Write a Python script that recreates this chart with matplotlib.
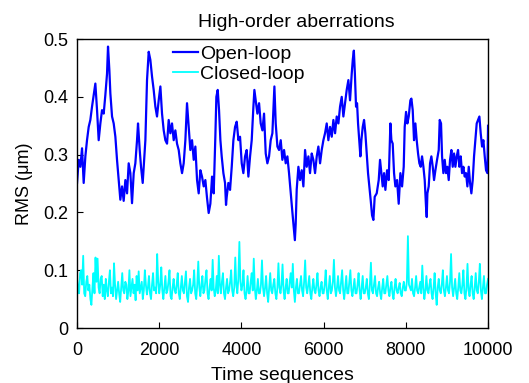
import matplotlib.pyplot as plt

plt.rcParams['font.family'] = ['Liberation Sans', 'DejaVu Sans']

# open-loop trace
open_t = [0, 41, 81, 122, 162, 203, 243, 284, 324, 365, 406, 446, 487, 527, 568, 608, 649, 689,
          730, 754, 787, 811, 852, 892, 933, 973, 1014, 1054, 1095, 1135, 1176, 1217, 1257, 1298,
          1338, 1379, 1419, 1460, 1484, 1525, 1557, 1598, 1622, 1663, 1703, 1744, 1784, 1825,
          1865, 1906, 1946, 1987, 2028, 2068, 2109, 2149, 2190, 2230, 2271, 2311, 2352, 2392,
          2433, 2474, 2514, 2555, 2595, 2636, 2676, 2717, 2757, 2798, 2839, 2879, 2920, 2960,
          3001, 3041, 3082, 3122, 3163, 3203, 3244, 3285, 3325, 3365, 3390, 3423, 3455, 3488,
          3520, 3561, 3601, 3625, 3642, 3682, 3723, 3764, 3804, 3845, 3885, 3926, 3966, 4007,
          4047, 4088, 4128, 4169, 4210, 4250, 4291, 4315, 4347, 4388, 4429, 4469, 4510, 4550,
          4591, 4631, 4672, 4712, 4753, 4802, 4834, 4875, 4915, 4956, 4996, 5037, 5077, 5118,
          5158, 5199, 5240, 5270, 5300, 5320, 5345, 5386, 5426, 5467, 5507, 5548, 5588, 5629,
          5669, 5710, 5750, 5791, 5832, 5872, 5913, 5953, 5994, 6034, 6075, 6115, 6156, 6197,
          6237, 6278, 6318, 6359, 6399, 6440, 6480, 6521, 6561, 6602, 6642, 6683, 6710, 6735,
          6760, 6788, 6813, 6837, 6861, 6894, 6918, 6951, 6983, 7015, 7048, 7080, 7113, 7145,
          7178, 7210, 7242, 7291, 7340, 7372, 7405, 7437, 7470, 7502, 7543, 7583, 7624, 7648,
          7680, 7713, 7745, 7786, 7826, 7867, 7908, 7948, 7972, 8005, 8037, 8070, 8110, 8135,
          8167, 8199, 8232, 8264, 8297, 8329, 8362, 8394, 8427, 8459, 8491, 8508, 8524, 8556,
          8589, 8621, 8654, 8686, 8719, 8759, 8800, 8824, 8856, 8881, 8913, 8946, 8978, 9010,
          9043, 9075, 9108, 9140, 9173, 9205, 9238, 9270, 9302, 9335, 9367, 9400, 9432, 9465,
          9497, 9530, 9562, 9594, 9627, 9659, 9692, 9724, 9757, 9789, 9821, 9854, 9886, 9919,
          9951, 9984, 10000]
open_rms = [0.251, 0.291, 0.279, 0.311, 0.251, 0.297, 0.325, 0.348, 0.360, 0.383, 0.403, 0.423,
            0.377, 0.325, 0.354, 0.377, 0.371, 0.403, 0.440, 0.487, 0.446, 0.406, 0.366, 0.354,
            0.331, 0.291, 0.256, 0.222, 0.245, 0.220, 0.256, 0.233, 0.285, 0.268, 0.216, 0.268,
            0.285, 0.325, 0.354, 0.308, 0.279, 0.251, 0.279, 0.325, 0.429, 0.478, 0.464, 0.435,
            0.412, 0.383, 0.366, 0.394, 0.418, 0.371, 0.342, 0.325, 0.319, 0.360, 0.337, 0.354,
            0.325, 0.342, 0.319, 0.308, 0.285, 0.268, 0.285, 0.325, 0.389, 0.348, 0.308, 0.325,
            0.291, 0.314, 0.256, 0.233, 0.273, 0.262, 0.245, 0.256, 0.225, 0.199, 0.215, 0.262,
            0.233, 0.330, 0.400, 0.412, 0.377, 0.325, 0.297, 0.268, 0.251, 0.213, 0.227, 0.251,
            0.239, 0.279, 0.325, 0.348, 0.357, 0.325, 0.331, 0.285, 0.268, 0.297, 0.308, 0.262,
            0.297, 0.325, 0.383, 0.412, 0.394, 0.371, 0.389, 0.354, 0.342, 0.371, 0.302, 0.285,
            0.297, 0.325, 0.337, 0.418, 0.354, 0.314, 0.308, 0.325, 0.291, 0.308, 0.285, 0.297,
            0.268, 0.233, 0.200, 0.175, 0.152, 0.180, 0.240, 0.279, 0.256, 0.273, 0.245, 0.308,
            0.279, 0.297, 0.268, 0.302, 0.291, 0.268, 0.297, 0.314, 0.285, 0.308, 0.325, 0.337,
            0.354, 0.325, 0.348, 0.331, 0.360, 0.337, 0.366, 0.354, 0.383, 0.400, 0.366, 0.389,
            0.412, 0.429, 0.394, 0.440, 0.465, 0.480, 0.440, 0.383, 0.389, 0.354, 0.331, 0.297,
            0.325, 0.348, 0.360, 0.337, 0.302, 0.268, 0.245, 0.221, 0.195, 0.187, 0.227, 0.233,
            0.256, 0.291, 0.268, 0.245, 0.268, 0.239, 0.273, 0.256, 0.354, 0.325, 0.319, 0.268,
            0.245, 0.256, 0.215, 0.268, 0.245, 0.279, 0.348, 0.374, 0.354, 0.366, 0.394, 0.397,
            0.377, 0.325, 0.354, 0.325, 0.302, 0.285, 0.279, 0.297, 0.279, 0.256, 0.210, 0.192,
            0.233, 0.245, 0.285, 0.297, 0.279, 0.256, 0.273, 0.291, 0.308, 0.360, 0.354, 0.297,
            0.268, 0.291, 0.268, 0.279, 0.256, 0.291, 0.308, 0.279, 0.302, 0.279, 0.297, 0.308,
            0.279, 0.297, 0.268, 0.279, 0.262, 0.268, 0.245, 0.279, 0.251, 0.233, 0.256, 0.297,
            0.325, 0.354, 0.360, 0.366, 0.337, 0.314, 0.325, 0.297, 0.273, 0.268, 0.350]

# closed-loop trace, one value every 25 samples
closed_rms = [
    0.085, 0.070, 0.060, 0.095, 0.100, 0.075, 0.125, 0.060, 0.055, 0.080,
    0.090, 0.065, 0.075, 0.050, 0.040, 0.070, 0.095, 0.060, 0.122, 0.080,
    0.120, 0.070, 0.060, 0.085, 0.090, 0.055, 0.075, 0.050, 0.085, 0.065,
    0.055, 0.080, 0.100, 0.060, 0.070, 0.055, 0.112, 0.075, 0.050, 0.065,
    0.080, 0.060, 0.045, 0.070, 0.095, 0.065, 0.060, 0.080, 0.075, 0.050,
    0.065, 0.100, 0.055, 0.070, 0.085, 0.060, 0.075, 0.048, 0.090, 0.065,
    0.098, 0.060, 0.070, 0.080, 0.050, 0.065, 0.100, 0.075, 0.058, 0.070,
    0.090, 0.060, 0.050, 0.075, 0.095, 0.065, 0.070, 0.060, 0.128, 0.080,
    0.060, 0.075, 0.105, 0.065, 0.050, 0.070, 0.090, 0.060, 0.065, 0.080,
    0.100, 0.055, 0.050, 0.070, 0.085, 0.065, 0.060, 0.075, 0.095, 0.060,
    0.050, 0.070, 0.090, 0.065, 0.060, 0.080, 0.098, 0.055, 0.045, 0.070,
    0.085, 0.060, 0.065, 0.075, 0.100, 0.060, 0.050, 0.075, 0.115, 0.070,
    0.055, 0.075, 0.090, 0.060, 0.065, 0.085, 0.100, 0.060, 0.050, 0.070,
    0.085, 0.065, 0.118, 0.070, 0.055, 0.065, 0.090, 0.060, 0.125, 0.075,
    0.060, 0.080, 0.095, 0.060, 0.050, 0.070, 0.085, 0.060, 0.065, 0.080,
    0.100, 0.065, 0.055, 0.070, 0.122, 0.075, 0.060, 0.085, 0.149, 0.080,
    0.065, 0.075, 0.100, 0.060, 0.050, 0.065, 0.090, 0.060, 0.060, 0.080,
    0.095, 0.065, 0.120, 0.070, 0.050, 0.065, 0.085, 0.060, 0.060, 0.075,
    0.117, 0.070, 0.055, 0.070, 0.090, 0.060, 0.045, 0.070, 0.095, 0.065,
    0.060, 0.075, 0.085, 0.060, 0.050, 0.070, 0.112, 0.070, 0.060, 0.075,
    0.110, 0.065, 0.050, 0.070, 0.085, 0.060, 0.060, 0.080, 0.095, 0.070,
    0.111, 0.065, 0.045, 0.070, 0.085, 0.060, 0.060, 0.075, 0.090, 0.065,
    0.055, 0.080, 0.117, 0.070, 0.060, 0.075, 0.090, 0.060, 0.050, 0.070,
    0.085, 0.065, 0.060, 0.075, 0.095, 0.065, 0.055, 0.070, 0.080, 0.060,
    0.060, 0.075, 0.100, 0.065, 0.050, 0.070, 0.090, 0.060, 0.065, 0.080,
    0.118, 0.070, 0.055, 0.070, 0.090, 0.065, 0.060, 0.080, 0.100, 0.065,
    0.050, 0.070, 0.090, 0.060, 0.060, 0.080, 0.100, 0.065, 0.055, 0.070,
    0.085, 0.060, 0.060, 0.075, 0.095, 0.065, 0.050, 0.070, 0.090, 0.060,
    0.060, 0.070, 0.085, 0.060, 0.050, 0.075, 0.113, 0.065, 0.060, 0.075,
    0.090, 0.060, 0.055, 0.070, 0.080, 0.060, 0.050, 0.070, 0.085, 0.060,
    0.060, 0.075, 0.090, 0.065, 0.055, 0.070, 0.080, 0.060, 0.050, 0.070,
    0.085, 0.065, 0.060, 0.070, 0.078, 0.060, 0.055, 0.070, 0.080, 0.065,
    0.065, 0.080, 0.159, 0.075, 0.070, 0.065, 0.085, 0.060, 0.055, 0.070,
    0.090, 0.065, 0.060, 0.070, 0.080, 0.060, 0.108, 0.070, 0.050, 0.065,
    0.090, 0.065, 0.060, 0.075, 0.085, 0.060, 0.050, 0.070, 0.095, 0.060,
    0.040, 0.070, 0.085, 0.065, 0.060, 0.075, 0.100, 0.065, 0.055, 0.070,
    0.090, 0.065, 0.060, 0.080, 0.128, 0.070, 0.055, 0.070, 0.085, 0.060,
    0.050, 0.070, 0.095, 0.065, 0.060, 0.075, 0.100, 0.060, 0.050, 0.070,
    0.111, 0.065, 0.055, 0.075, 0.090, 0.060, 0.050, 0.070, 0.095, 0.065,
    0.060, 0.080, 0.111, 0.065, 0.050, 0.070, 0.090, 0.060, 0.060, 0.075,
    0.085]
closed_t = [i * 25 for i in range(len(closed_rms))]

fig = plt.figure(figsize=(5.29, 3.83), dpi=100)
ax = fig.add_axes([0.1456, 0.1436, 0.777, 0.7544])

ax.plot(open_t, open_rms, color='#0000ff', lw=1.6, label='Open-loop')
ax.plot(closed_t, closed_rms, color='#00ffff', lw=1.3, label='Closed-loop')

ax.set_xlim(0, 10000)
ax.set_ylim(0, 0.5)
ax.set_xticks([0, 2000, 4000, 6000, 8000, 10000])
ax.set_yticks([0, 0.1, 0.2, 0.3, 0.4, 0.5])
ax.set_yticklabels(['0', '0.1', '0.2', '0.3', '0.4', '0.5'])
ax.tick_params(direction='in', length=4, labelsize=13, top=False, right=False)
ax.tick_params(axis='x', pad=10)
ax.tick_params(axis='y', pad=6)
for s in ax.spines.values():
    s.set_linewidth(1.0)

ax.set_xlabel('Time sequences', fontsize=14, labelpad=6)
ax.set_ylabel('RMS (\u03bcm)', fontsize=13, labelpad=8)
ax.set_title('High-order aberrations', fontsize=14, x=0.534, pad=9)

ax.legend(loc='upper left', bbox_to_anchor=(0.215, 1.005), frameon=False, fontsize=14,
          handlelength=1.3, handletextpad=0.1, labelspacing=0.1, borderaxespad=0.0)

fig.savefig('out.png', dpi=100)
